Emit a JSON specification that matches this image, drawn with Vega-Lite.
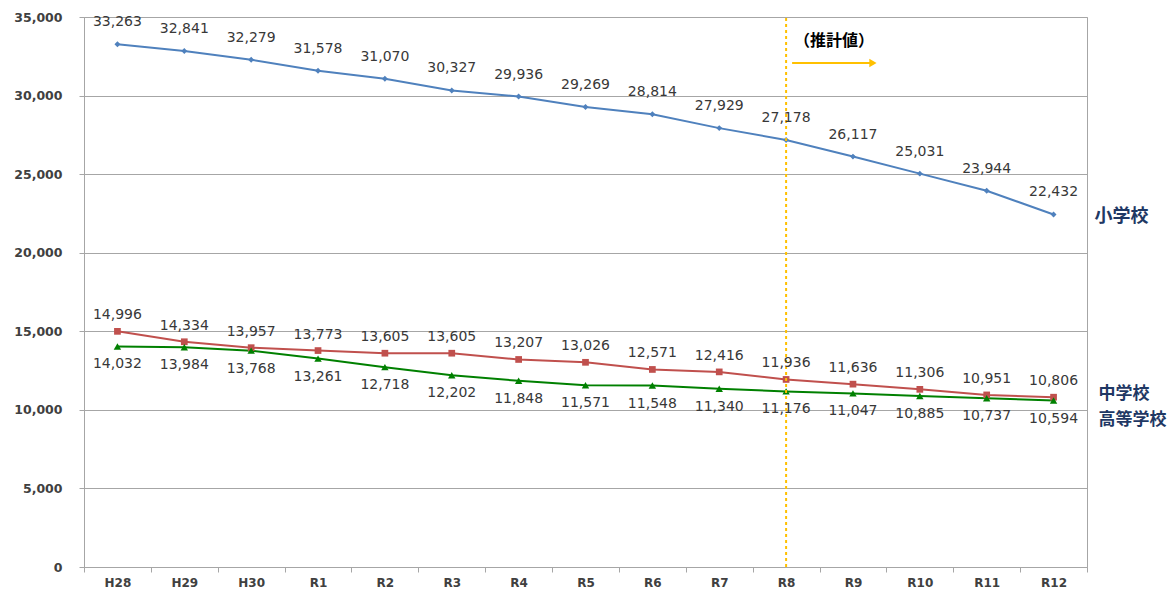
{
  "$schema": "https://vega.github.io/schema/vega-lite/v6.json",
  "width": 1003,
  "height": 550,
  "autosize": "none",
  "padding": {"left": 84, "top": 17, "right": 86, "bottom": 25},
  "background": "white",
  "config": {"font": "DejaVu Sans", "numberFormat": ",", "view": {"stroke": "#a6a6a6", "strokeWidth": 1}},
  "data": {"values": [
    {"x":"H28","series":"小学校","value":33263},{"x":"H29","series":"小学校","value":32841},{"x":"H30","series":"小学校","value":32279},{"x":"R1","series":"小学校","value":31578},{"x":"R2","series":"小学校","value":31070},{"x":"R3","series":"小学校","value":30327},{"x":"R4","series":"小学校","value":29936},{"x":"R5","series":"小学校","value":29269},{"x":"R6","series":"小学校","value":28814},{"x":"R7","series":"小学校","value":27929},{"x":"R8","series":"小学校","value":27178},{"x":"R9","series":"小学校","value":26117},{"x":"R10","series":"小学校","value":25031},{"x":"R11","series":"小学校","value":23944},{"x":"R12","series":"小学校","value":22432},
    {"x":"H28","series":"中学校","value":14996},{"x":"H29","series":"中学校","value":14334},{"x":"H30","series":"中学校","value":13957},{"x":"R1","series":"中学校","value":13773},{"x":"R2","series":"中学校","value":13605},{"x":"R3","series":"中学校","value":13605},{"x":"R4","series":"中学校","value":13207},{"x":"R5","series":"中学校","value":13026},{"x":"R6","series":"中学校","value":12571},{"x":"R7","series":"中学校","value":12416},{"x":"R8","series":"中学校","value":11936},{"x":"R9","series":"中学校","value":11636},{"x":"R10","series":"中学校","value":11306},{"x":"R11","series":"中学校","value":10951},{"x":"R12","series":"中学校","value":10806},
    {"x":"H28","series":"高等学校","value":14032},{"x":"H29","series":"高等学校","value":13984},{"x":"H30","series":"高等学校","value":13768},{"x":"R1","series":"高等学校","value":13261},{"x":"R2","series":"高等学校","value":12718},{"x":"R3","series":"高等学校","value":12202},{"x":"R4","series":"高等学校","value":11848},{"x":"R5","series":"高等学校","value":11571},{"x":"R6","series":"高等学校","value":11548},{"x":"R7","series":"高等学校","value":11340},{"x":"R8","series":"高等学校","value":11176},{"x":"R9","series":"高等学校","value":11047},{"x":"R10","series":"高等学校","value":10885},{"x":"R11","series":"高等学校","value":10737},{"x":"R12","series":"高等学校","value":10594}
  ]},
  "encoding": {
    "x": {"field": "x", "type": "nominal",
      "scale": {"type": "band", "paddingInner": 0, "paddingOuter": 0, "domain": ["H28","H29","H30","R1","R2","R3","R4","R5","R6","R7","R8","R9","R10","R11","R12"]},
      "axis": {"title": null, "labelAngle": 0, "tickBand": "extent", "domainColor": "#a6a6a6", "tickColor": "#a6a6a6", "tickSize": 5, "labelPadding": 5, "labelFontSize": 12, "labelFontWeight": "bold", "labelColor": "#404040", "grid": false}},
    "y": {"field": "value", "type": "quantitative",
      "scale": {"domain": [0, 35000], "nice": false},
      "axis": {"title": null, "values": [0,5000,10000,15000,20000,25000,30000,35000], "labelExpr": "format(datum.value, ',')", "grid": true, "gridColor": "#a6a6a6", "domainColor": "#a6a6a6", "tickColor": "#a6a6a6", "tickSize": 5, "labelPadding": 17, "labelFontSize": 12.5, "labelFontWeight": "bold", "labelColor": "#404040"}}
  },
  "layer": [
    {"mark": {"type": "line", "strokeWidth": 2},
     "encoding": {"color": {"field": "series", "type": "nominal", "scale": {"domain": ["小学校","中学校","高等学校"], "range": ["#4F81BD","#C0504D","#008000"]}, "legend": null}}},
    {"mark": {"type": "point", "filled": true, "opacity": 1},
     "encoding": {
       "color": {"field": "series", "type": "nominal", "scale": {"domain": ["小学校","中学校","高等学校"], "range": ["#4F81BD","#C0504D","#008000"]}, "legend": null},
       "shape": {"field": "series", "type": "nominal", "scale": {"domain": ["小学校","中学校","高等学校"], "range": ["diamond","square","triangle-up"]}, "legend": null},
       "size": {"field": "series", "type": "nominal", "scale": {"domain": ["小学校","中学校","高等学校"], "range": [35, 55, 50]}, "legend": null}}},
    {"transform": [{"filter": "datum.x === 'R8' && datum.series === '小学校'"}],
     "mark": {"type": "rule", "color": "#FFC000", "strokeWidth": 2, "strokeDash": [3, 3]},
     "encoding": {"x": {"field": "x", "type": "nominal"}, "y": {"datum": 0}, "y2": {"datum": 35000}}},
    {"transform": [{"filter": "datum.series === '小学校'"}],
     "mark": {"type": "text", "dy": -22, "fontSize": 14, "color": "#383838"},
     "encoding": {"text": {"field": "value", "type": "quantitative", "format": ","}}},
    {"transform": [{"filter": "datum.series === '中学校'"}],
     "mark": {"type": "text", "dy": -16, "fontSize": 14, "color": "#383838"},
     "encoding": {"text": {"field": "value", "type": "quantitative", "format": ","}}},
    {"transform": [{"filter": "datum.series === '高等学校'"}],
     "mark": {"type": "text", "dy": 18, "fontSize": 14, "color": "#383838"},
     "encoding": {"text": {"field": "value", "type": "quantitative", "format": ","}}},
    {"transform": [{"filter": "datum.x === 'R12' && datum.series === '小学校'"}],
     "mark": {"type": "text", "align": "left", "dx": 41, "dy": 3, "font": "Noto Sans CJK JP", "fontWeight": "bold", "fontSize": 18, "color": "#1F3864"},
     "encoding": {"text": {"field": "series"}}},
    {"transform": [{"filter": "datum.x === 'R12' && datum.series === '中学校'"}],
     "mark": {"type": "text", "align": "left", "dx": 45, "dy": -3, "font": "Noto Sans CJK JP", "fontWeight": "bold", "fontSize": 17, "color": "#1F3864"},
     "encoding": {"text": {"field": "series"}}},
    {"transform": [{"filter": "datum.x === 'R12' && datum.series === '高等学校'"}],
     "mark": {"type": "text", "align": "left", "dx": 45, "dy": 19, "font": "Noto Sans CJK JP", "fontWeight": "bold", "fontSize": 17, "color": "#1F3864"},
     "encoding": {"text": {"field": "series"}}},
    {"transform": [{"filter": "datum.x === 'R8' && datum.series === '小学校'"}],
     "mark": {"type": "rule", "color": "#FFC000", "strokeWidth": 2, "xOffset": 6, "x2Offset": 20},
     "encoding": {"x": {"field": "x", "type": "nominal"}, "x2": {"datum": "R9"}, "y": {"datum": 32070}}},
    {"transform": [{"filter": "datum.x === 'R9' && datum.series === '小学校'"}],
     "mark": {"type": "point", "shape": "triangle-right", "filled": true, "color": "#FFC000", "opacity": 1, "size": 70, "xOffset": 20},
     "encoding": {"x": {"field": "x", "type": "nominal"}, "y": {"datum": 32070}}},
    {"transform": [{"filter": "datum.x === 'R8' && datum.series === '小学校'"}],
     "mark": {"type": "text", "text": "（推計値）", "font": "Noto Sans CJK JP", "fontWeight": "bold", "fontSize": 16, "color": "#000000", "xOffset": 48},
     "encoding": {"x": {"field": "x", "type": "nominal"}, "y": {"datum": 33460}}}
  ]
}
